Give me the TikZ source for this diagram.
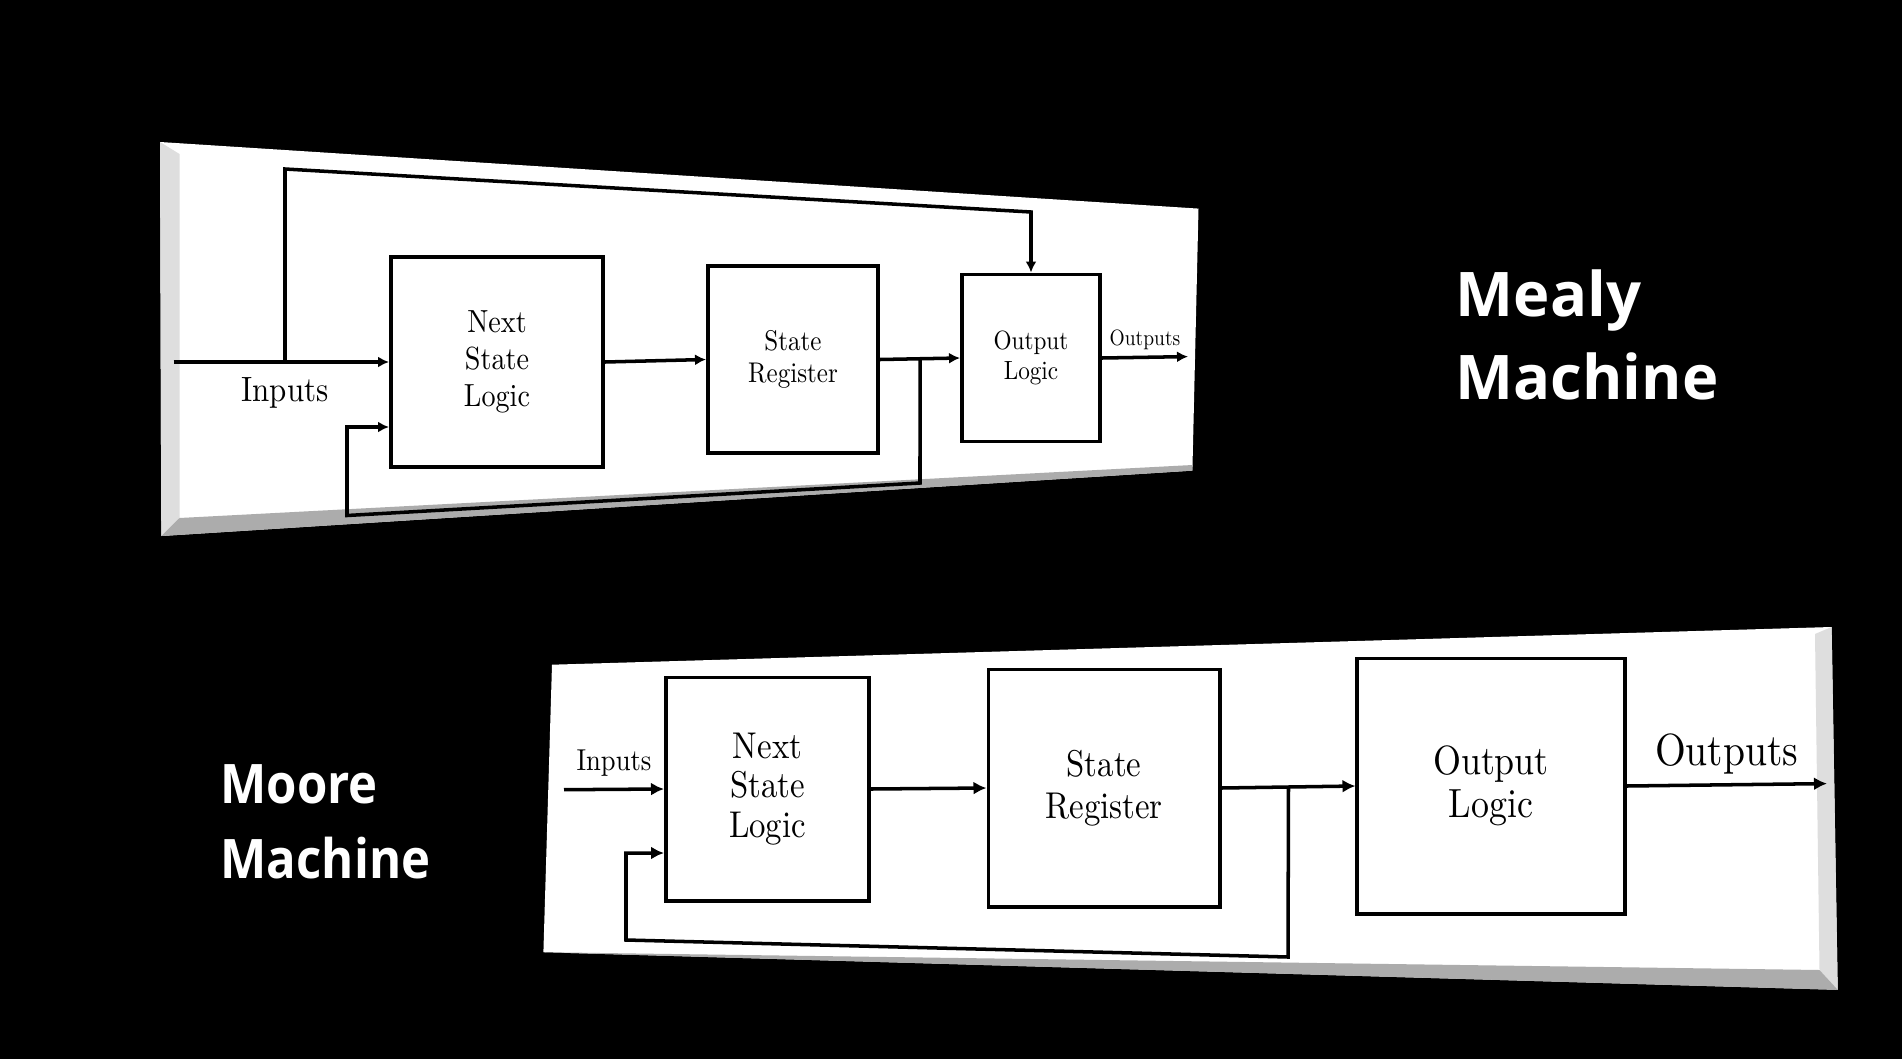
\documentclass[tikz,border=0pt]{standalone}
\usepackage{fontspec}
\usepackage{tikz}
\usetikzlibrary{positioning,arrows.meta,calc}
\newfontfamily\diagfont{lmroman10-regular.otf}[FakeStretch=0.88]
\newfontfamily\titlefont{Open Sans}
\newfontfamily\titlefontnarrow{Open Sans}[FakeStretch=0.9]
\definecolor{bevellight}{RGB}{222,222,222}
\definecolor{beveldark}{RGB}{172,172,172}

\begin{document}
\begin{tikzpicture}[
  x=0.01cm, y=0.01cm,
  block/.style={draw,line width=1.1pt,fill=white,align=center,inner sep=0pt},
  flow/.style={-{Latex[length=#1,width=#1]},line width=1pt},
  flow/.default=1.2mm,
  lbl/.style={inner sep=0pt},
  machname/.style={text=white,align=left,anchor=north west,inner sep=0pt}
]
\fill[black] (0,0) rectangle (1902,1059);
\useasboundingbox (0,0) rectangle (1902,1059);

% Mealy panel
\fill[white] (160,917) -- (1198.5,850.4) -- (1192.4,588.4) -- (161.3,523) -- cycle;
\fill[bevellight] (160,917) -- (179.5,905) -- (179.5,541) -- (161.3,523) -- cycle;
\fill[beveldark] (161.3,523) -- (179.5,541) -- (1192.4,594) -- (1192.4,588.4) -- cycle;

\node[block,minimum width=2.12cm,minimum height=2.10cm,
      font=\diagfont\fontsize{9.1}{10.5}\selectfont] (mealyNext) at (497,697) {Next\\State\\Logic};
\node[block,minimum width=1.70cm,minimum height=1.87cm,
      font=\diagfont\fontsize{8.1}{9}\selectfont] (mealyReg) at (793,699.5) {State\\Register};
\node[block,minimum width=1.38cm,minimum height=1.67cm,
      font=\diagfont\fontsize{7.5}{8.3}\selectfont] (mealyOut) at (1031,701) {Output\\Logic};

\coordinate (mealyIn) at (173.5,697);
\coordinate (mealyTap) at (285,697);
\coordinate (mealyTopL) at (285,890);
\coordinate (mealyTopR) at (1031,847);
\coordinate (mealySplit) at ($(mealyReg.east)!0.5!(mealyOut.west)$);
\coordinate (mealyFbR) at (920,576);
\coordinate (mealyFbL) at (347,543.5);
\coordinate (mealyFbUp) at (347,632);
\coordinate (mealyOutEnd) at (1188,702.4);

\draw[flow=1.1mm] (mealyIn) -- (mealyNext.west);
\node[lbl,below=4.1pt of mealyTap,font=\diagfont\fontsize{10}{12}\selectfont] (mealyInLbl) {Inputs};
\draw[flow=1.1mm] (mealyTap) -- (mealyTopL) -- (mealyTopR) -- (mealyOut.north);
\draw[flow=1.1mm] (mealyNext.east) -- (mealyReg.west);
\draw[flow=1.1mm] (mealyReg.east) -- (mealyOut.west);
\draw[flow=1.1mm] (mealySplit) -- (mealyFbR) -- (mealyFbL) -- (mealyFbUp) -- (mealyFbUp -| mealyNext.west);
\draw[flow=1.1mm] (mealyOut.east) -- node[lbl,above=1.5pt,font=\diagfont\fontsize{6.3}{7.5}\selectfont] (mealyOutLbl) {Outputs} (mealyOutEnd);

\node[machname,font=\titlefont\bfseries\fontsize{17.5}{23.6}\selectfont] (mealyName) at (1455,790) {Mealy\\Machine};

% Moore panel
\fill[white] (552,394.3) -- (1831.6,432) -- (1837.7,69.2) -- (543.4,106.8) -- cycle;
\fill[bevellight] (1815,425) -- (1831.6,432) -- (1837.7,69.2) -- (1819.5,89) -- cycle;
\fill[beveldark] (543.4,106.8) -- (1819.5,89) -- (1837.7,69.2) -- cycle;

\node[block,minimum width=2.03cm,minimum height=2.23cm,
      font=\diagfont\fontsize{10.6}{11.2}\selectfont] (mooreNext) at (767.5,270) {Next\\State\\Logic};
\node[block,minimum width=2.31cm,minimum height=2.37cm,
      font=\diagfont\fontsize{10.6}{12.1}\selectfont] (mooreReg) at (1104,271) {State\\Register};
\node[block,minimum width=2.67cm,minimum height=2.55cm,
      font=\diagfont\fontsize{11.6}{12.4}\selectfont] (mooreOut) at (1491,273) {Output\\Logic};

\coordinate (mooreIn) at (564,269.3);
\coordinate (mooreSplit) at ($(mooreReg.east)!0.5!(mooreOut.west)$);
\coordinate (mooreFbR) at (1288,102);
\coordinate (mooreFbL) at (626,119);
\coordinate (mooreFbUp) at (626,206);
\coordinate (mooreOutEnd) at (1827,275.4);

\draw[flow=1.3mm] (mooreIn) -- node[lbl,above=3.1pt,font=\diagfont\fontsize{8.6}{10}\selectfont] (mooreInLbl) {Inputs} (mooreNext.west);
\draw[flow=1.3mm] (mooreNext.east) -- (mooreReg.west);
\draw[flow=1.3mm] (mooreReg.east) -- (mooreOut.west);
\draw[flow=1.3mm] (mooreSplit) -- (mooreFbR) -- (mooreFbL) -- (mooreFbUp) -- (mooreFbUp -| mooreNext.west);
\draw[flow=1.3mm] (mooreOut.east) -- node[lbl,above=2.4pt,font=\diagfont\fontsize{12.8}{15}\selectfont] (mooreOutLbl) {Outputs} (mooreOutEnd);

\node[machname,font=\titlefontnarrow\bfseries\fontsize{15.5}{21.3}\selectfont] (mooreName) at (220,295) {Moore\\Machine};
\end{tikzpicture}
\end{document}
